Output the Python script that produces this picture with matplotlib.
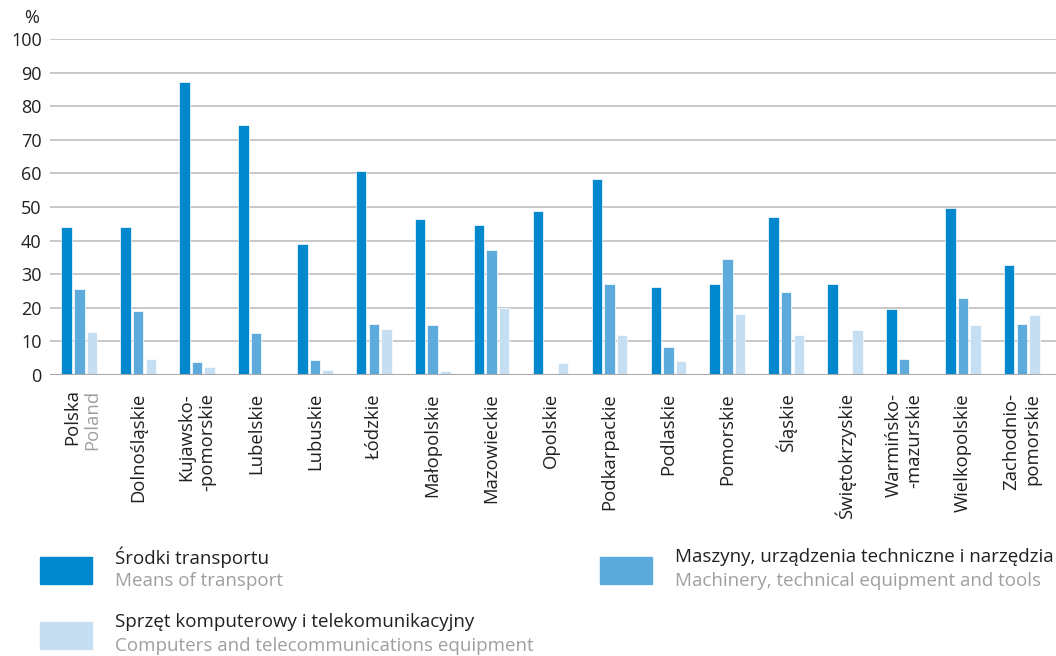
import matplotlib
matplotlib.use("Agg")
import matplotlib.pyplot as plt
from matplotlib.patches import Rectangle
import numpy as np

plt.rcParams['font.family'] = ['Open Sans', 'DejaVu Sans']

regions = ["Polska", "Dolnośląskie", "Kujawsko-\n-pomorskie", "Lubelskie", "Lubuskie",
           "Łódzkie", "Małopolskie", "Mazowieckie", "Opolskie", "Podkarpackie",
           "Podlaskie", "Pomorskie", "Śląskie", "Świętokrzyskie", "Warmińsko-\n-mazurskie",
           "Wielkopolskie", "Zachodnio-\npomorskie"]
poland_en = "Poland"

transport = [44.0, 44.0, 87.2, 74.3, 39.1, 60.8, 46.5, 44.6, 48.7, 58.3,
             26.1, 27.0, 47.0, 27.1, 19.7, 49.7, 32.6]
machinery = [25.5, 19.1, 4.0, 12.4, 4.4, 15.3, 14.9, 37.2, 0.0, 27.0,
             8.2, 34.5, 24.6, 0.0, 4.7, 22.8, 15.3]
computers = [12.8, 4.9, 2.4, 0.0, 1.6, 13.8, 1.3, 19.8, 3.5, 11.9,
             4.1, 18.2, 11.8, 13.4, 0.0, 15.0, 17.8]

series_pl = ["Środki transportu", "Maszyny, urządzenia techniczne i narzędzia",
             "Sprzęt komputerowy i telekomunikacyjny"]
series_en = ["Means of transport", "Machinery, technical equipment and tools",
             "Computers and telecommunications equipment"]
colors = ["#0088CF", "#5DAADD", "#C6DEF2"]
yticks = [0, 10, 20, 30, 40, 50, 60, 70, 80, 90, 100]

DARK = "#231F20"
GREY = "#9D9FA2"

fig = plt.figure(figsize=(10.56, 6.56), dpi=100)
ax = fig.add_axes([50/1056, 1 - 375/656, 1 - 50/1056, (375 - 39)/656])

x = np.arange(len(regions))
w = 0.178
off = 0.214
for i, (vals, c) in enumerate(zip([transport, machinery, computers], colors)):
    ax.bar(x + (i - 1) * off, vals, width=w, color=c, edgecolor="white",
           linewidth=0.5, zorder=3)

ax.set_xlim(-0.497, 16.58)
ax.set_ylim(0, 100)
ax.set_yticks(yticks)
ax.set_yticklabels([str(t) for t in yticks], fontsize=13, color=DARK)
ax.yaxis.grid(True, color="#C4C4C4", linewidth=1.3, zorder=0)
ax.set_axisbelow(True)
for s in ax.spines.values():
    s.set_visible(False)
ax.tick_params(axis="y", length=0, pad=6)
ax.tick_params(axis="x", length=0, pad=13)
ax.axhline(0, color="#A8A8A8", linewidth=1.5, zorder=4)

labels = [r if i != 0 else "" for i, r in enumerate(regions)]
ax.set_xticks(x)
ax.set_xticklabels(labels, rotation=90, fontsize=13.3, color=DARK,
                   multialignment="right", va="top", ha="center")
# Poland label in two colours
for txt, col, dx in [(regions[0], DARK, -5.0), (poland_en, GREY, 9.5)]:
    ax.annotate(txt, xy=(x[0], 0), xycoords=("data", "axes fraction"),
                xytext=(dx, -13 * 0.72 - 1), textcoords="offset points",
                rotation=90, fontsize=13.3, color=col, ha="center", va="top")

fig.text(32/1056, 1 - 18/656, "%", fontsize=13, color=DARK, ha="center", va="center")

# legend
leg_pos = [(40, 557), (600, 557), (40, 622)]
for (lx, ly), c, pl, en in zip(leg_pos, colors, series_pl, series_en):
    fig.add_artist(Rectangle((lx/1056, 1 - (ly + 27)/656), 52/1056, 27/656,
                             transform=fig.transFigure, color=c))
    fig.text((lx + 75)/1056, 1 - (ly + 0)/656, pl, fontsize=13.5, color=DARK,
             ha="left", va="center")
    fig.text((lx + 75)/1056, 1 - (ly + 24)/656, en, fontsize=13.5, color=GREY,
             ha="left", va="center")

fig.savefig("out.png", dpi=100)
